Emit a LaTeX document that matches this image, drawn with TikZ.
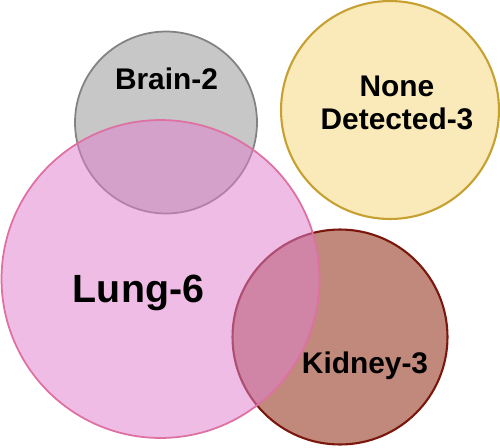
\documentclass[tikz,border=0pt]{standalone}
\usepackage{fontspec}
\setmainfont{Liberation Sans}
\usepackage{xcolor}
\usetikzlibrary{positioning}

\definecolor{braingray}{RGB}{199,199,199}
\definecolor{brainline}{RGB}{130,130,130}
\definecolor{lungpink}{RGB}{223,128,204}
\definecolor{lungline}{RGB}{222,112,162}
\definecolor{kidneybrown}{RGB}{193,137,124}
\definecolor{kidneyline}{RGB}{122,22,12}
\definecolor{noneyellow}{RGB}{250,234,185}
\definecolor{noneline}{RGB}{198,160,48}

\tikzset{
  label/.style={font=\bfseries\fontsize{17}{19}\selectfont, text=black, inner sep=0pt},
  biglabel/.style={font=\bfseries\fontsize{22.4}{26}\selectfont, text=black, inner sep=0pt}
}

\begin{document}
\begin{tikzpicture}[x=0.02cm, y=-0.02cm, line width=1pt]
        \useasboundingbox (0,0) rectangle (500,447);
        % Brain (grey, behind the lung circle)
        \draw[fill=braingray, draw=brainline] (166,122.5) circle (1.82cm);
        \node[label, anchor=base] (brain) at (166.5,89) {Brain-2};
        % None detected (yellow, on its own)
        \draw[fill=noneyellow, draw=noneline, line width=1.2pt] (390,110) circle (2.18cm);
        \node[label, align=center] (none) at (397,103) {None\\Detected-3};
        % Kidney (brown)
        \draw[fill=kidneybrown, draw=kidneyline, line width=1.2pt] (340,337) circle (2.15cm);
        \node[label, anchor=base] (kidney) at (365,373) {Kidney-3};
        % Lung (pink, see-through, on top)
        \draw[fill=lungpink, fill opacity=0.53, draw=lungline] (160.5,279) circle (3.18cm);
        \node[biglabel, anchor=base] (lung) at (138.5,302) {Lung-6};
    \end{tikzpicture}
\end{document}
